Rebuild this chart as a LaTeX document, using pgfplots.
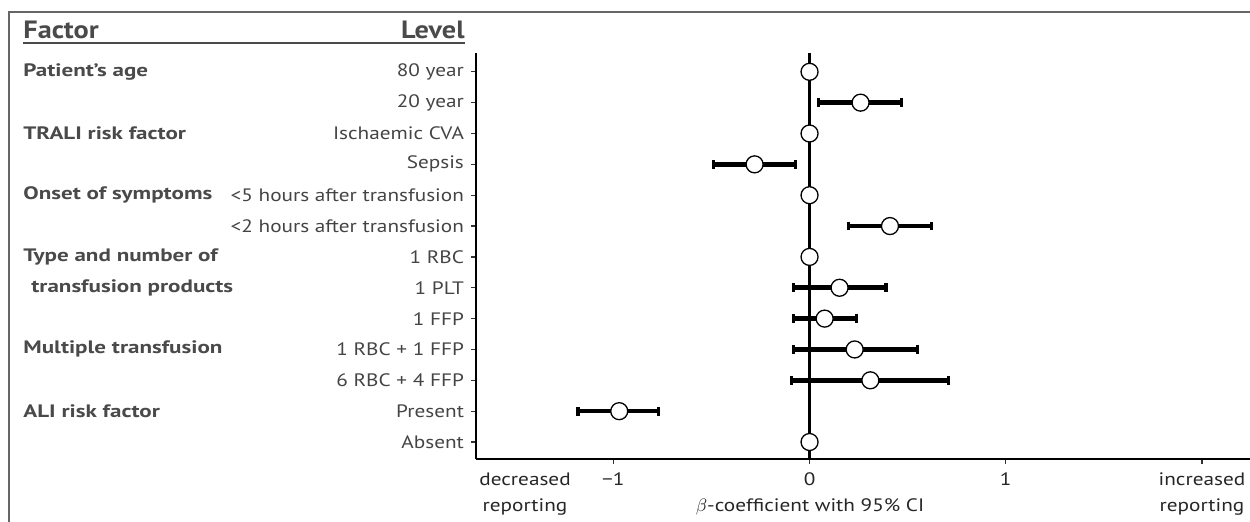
\documentclass[border=0pt]{standalone}
\usepackage{pgfplots}
\pgfplotsset{compat=1.18}
\usepackage{pgfplotstable}
\usepackage{fontspec}
\setmainfont{PT Sans}[FakeStretch=1.18]
\newfontfamily\facfont{PT Sans}[FakeStretch=1.28]
\newfontfamily\hdrfont{PT Sans}[FakeStretch=1.13]
\definecolor{txt}{HTML}{444444}
\definecolor{hdr}{HTML}{4A4A4A}
\definecolor{framec}{HTML}{666666}

\pgfplotstableread{
row est lo hi
12 0.26 0.046 0.47
10 -0.28 -0.49 -0.07
8 0.41 0.20 0.62
6 0.153 -0.08 0.39
5 0.077 -0.08 0.24
4 0.23 -0.08 0.55
3 0.31 -0.09 0.71
2 -0.97 -1.18 -0.77
}\effects
\pgfplotstableread{
row est
13 0
11 0
9 0
7 0
1 0
}\refs

\begin{document}
\begin{tikzpicture}
\useasboundingbox (0,0) rectangle (625pt,261pt);
\draw[framec, line width=1pt] (4.5pt,0) -- (4.5pt,255pt) -- (626pt,255pt);
\begin{axis}[
 at={(238pt,31.5pt)}, anchor=south west, scale only axis,
 width=387.5pt, height=203pt,
 xmin=-1.70, xmax=2.25, ymin=0.45, ymax=13.61,
 axis x line=bottom, axis y line=left,
 axis line style={-, line width=0.7pt, black},
 xtick={-1,0,1,2}, xticklabels={−1,0,1,{increased\\reporting}},
 extra x ticks={-1.45}, extra x tick labels={{decreased\\reporting}},
 extra x tick style={major tick style={draw=none}},
 ytick={1,...,13},
 yticklabels={Absent,Present,6 RBC + 4 FFP,1 RBC + 1 FFP,1 FFP,1 PLT,1 RBC,<2 hours after transfusion,<5 hours after transfusion,Sepsis,Ischaemic CVA,20 year,80 year},
 tick align=outside, major tick length=2.5pt,
 tick style={line width=0.6pt, black!80},
 xticklabel style={font=\fontsize{9}{12.8}\selectfont, align=center, text=black!85, yshift=-1pt},
 yticklabel style={font=\fontsize{9}{10}\selectfont, text=txt},
 clip=false,
 xlabel={$\beta$-coefficient with 95\% CI},
 xlabel style={at={(axis description cs:0.431,0)}, anchor=center, yshift=-24pt, font=\fontsize{9}{12}\selectfont, text=black!85},
]
\addplot[black, line width=1.1pt] coordinates {(0,0.45) (0,13.61)};
% confidence intervals
\pgfplotsinvokeforeach{0,...,7}{
  \pgfplotstablegetelem{#1}{row}\of\effects \edef\r{\pgfplotsretval}
  \pgfplotstablegetelem{#1}{lo}\of\effects \edef\l{\pgfplotsretval}
  \pgfplotstablegetelem{#1}{hi}\of\effects \edef\h{\pgfplotsretval}
  \edef\tmp{\noexpand\addplot[black, line width=2.3pt, forget plot] coordinates {(\l,\r) (\h,\r)};}
  \tmp
}
\addplot[only marks, mark=|, mark size=2.2pt, mark options={line width=1.6pt, black}] table[x=lo, y=row] {\effects};
\addplot[only marks, mark=|, mark size=2.2pt, mark options={line width=1.6pt, black}] table[x=hi, y=row] {\effects};
\addplot[only marks, mark=*, mark size=4.25pt,
  mark options={fill=white, draw=black, line width=0.65pt}]
  table[x=est, y=row] {\effects};
\addplot[only marks, mark=*, mark size=4.25pt,
  mark options={fill=white, draw=black, line width=0.65pt}]
  table[x=est, y=row] {\refs};
\end{axis}
\begin{scope}[every node/.style={inner sep=0pt, anchor=west, font=\facfont\fontsize{9}{10}\selectfont\bfseries, text=hdr}]
\node at (11.5pt,225pt) {Patient’s age};
\node at (11.5pt,194.2pt) {TRALI risk factor};
\node at (11.5pt,163.4pt) {Onset of symptoms};
\node at (11.5pt,132.5pt) {Type and number of};
\node at (15.5pt,117.1pt) {transfusion products};
\node at (11.5pt,86.3pt) {Multiple transfusion};
\node at (11.5pt,55.4pt) {ALI risk factor};
\end{scope}
\node[inner sep=0pt, anchor=base west, font=\hdrfont\fontsize{12.5}{14}\selectfont\bfseries, text=hdr] at (11.5pt,241.5pt) {Factor};
\node[inner sep=0pt, anchor=base east, font=\hdrfont\fontsize{12.5}{14}\selectfont\bfseries, text=hdr] at (232.5pt,241.5pt) {Level};
\draw[hdr, line width=0.75pt] (11.5pt,239.5pt) -- (232.5pt,239.5pt);
\end{tikzpicture}
\end{document}
